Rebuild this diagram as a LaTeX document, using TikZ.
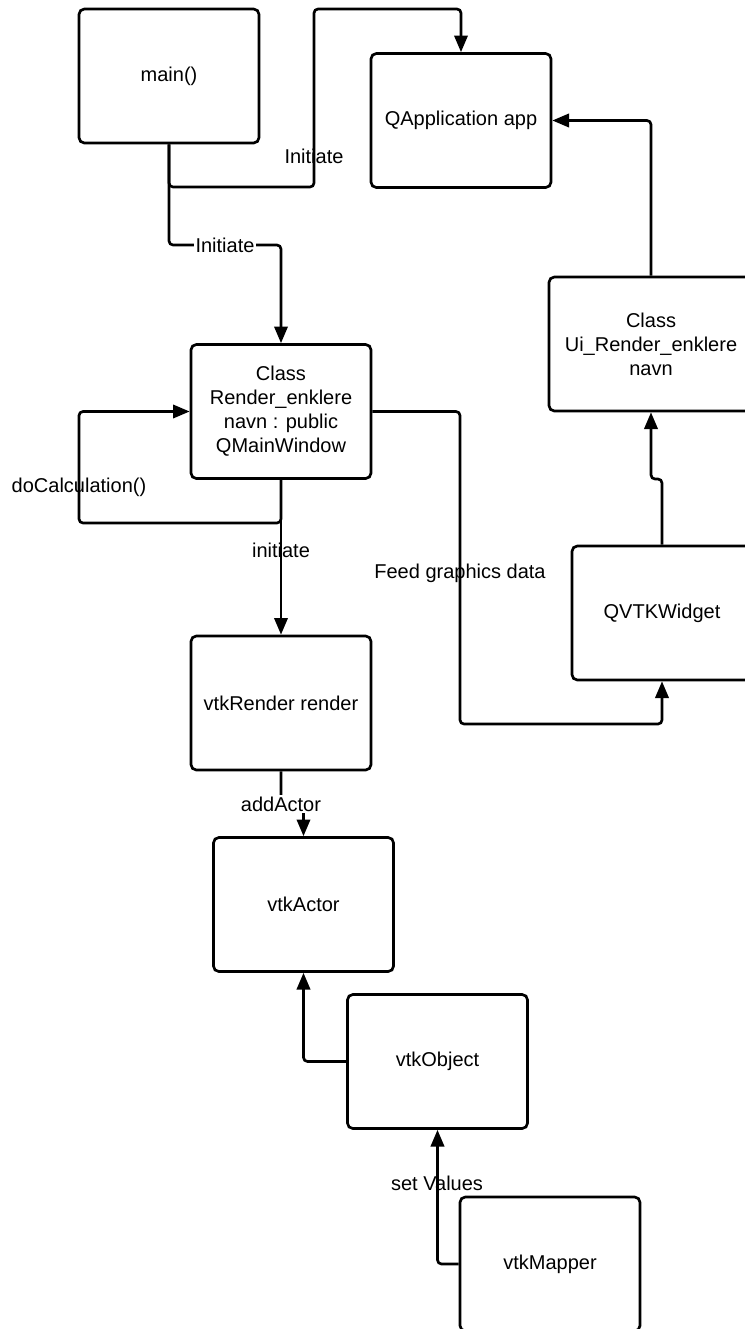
\documentclass[tikz,border=0pt]{standalone}
\usepackage{fontspec}
\setmainfont{Liberation Sans}
\usetikzlibrary{arrows.meta}
\begin{document}
\begin{tikzpicture}[x=0.75pt,y=-0.75pt,
  box/.style={draw, line width=2pt, rounded corners=4pt, minimum width=135pt, minimum height=100.5pt,
    align=center, inner sep=2pt, font=\fontsize{15}{18}\selectfont},
  conn/.style={line width=2pt, rounded corners=3pt, -{Triangle[length=12.5pt,width=10pt]}},
  lbl/.style={font=\fontsize{15}{18}\selectfont, inner sep=1pt},
  lblw/.style={lbl, fill=white}]
\fill[white] (0,0) rectangle (744,1329);
\useasboundingbox (0,0) rectangle (744,1329);

\node[box] (main)   at (169,76)    {main()};
\node[box] (app)    at (461,120.5) {QApplication app};
\node[box, minimum width=153pt] (ui) at (651,344) {Class\\Ui\_Render\_enklere\\navn};
\node[box] (cls)    at (281,411.5) {Class\\Render\_enklere\\navn : public\\QMainWindow};
\node[box] (qvtk)   at (662,613)   {QVTKWidget};
\node[box] (render) at (281,703)   {vtkRender render};
\node[box] (actor)  at (303.5,904.5) {vtkActor};
\node[box] (object) at (437.5,1061.5) {vtkObject};
\node[box] (mapper) at (550,1264)  {vtkMapper};

% main -> QApplication
\draw[conn] (main.south) |- (314,187) -- (314,9) -| (app.north);
% main -> Class Render
\draw[conn] (main.south) -- (169,245) -| (cls.north);
% Ui -> QApplication
\draw[conn] (ui.north) |- (app.east);
% Class Render -> QVTKWidget
\draw[conn] (cls.east) -| (460,724) -| (qvtk.south);
% QVTKWidget -> Ui
\draw[conn] (qvtk.north) -- (662,479) -| (ui.south);
% self loop
\draw[conn] (cls.south) -- (281,523) -| (79,411.5) -- (cls.west);
% Class Render -> vtkRender
\draw[conn] (cls.south) -- (render.north);
% vtkRender -> vtkActor
\draw[conn] (render.south) -- (281,804) -| (actor.north);
% vtkObject -> vtkActor
\draw[conn] (object.west) -| (actor.south);
% vtkMapper -> vtkObject
\draw[conn] (mapper.west) -| (object.south);

% labels
\node[lbl]  (l1) at (314,156)  {Initiate};
\node[lblw] (l2) at (225,245)  {Initiate};
\node[lbl]  (l3) at (79,487)   {doCalculation()};
\node[lbl]  (l4) at (281,550)  {initiate};
\node[lbl]  (l5) at (460,573)  {Feed graphics data};
\node[lblw] (l6) at (281,804)  {addActor};
\node[lbl]  (l7) at (437,1183) {set Values};
\end{tikzpicture}
\end{document}
